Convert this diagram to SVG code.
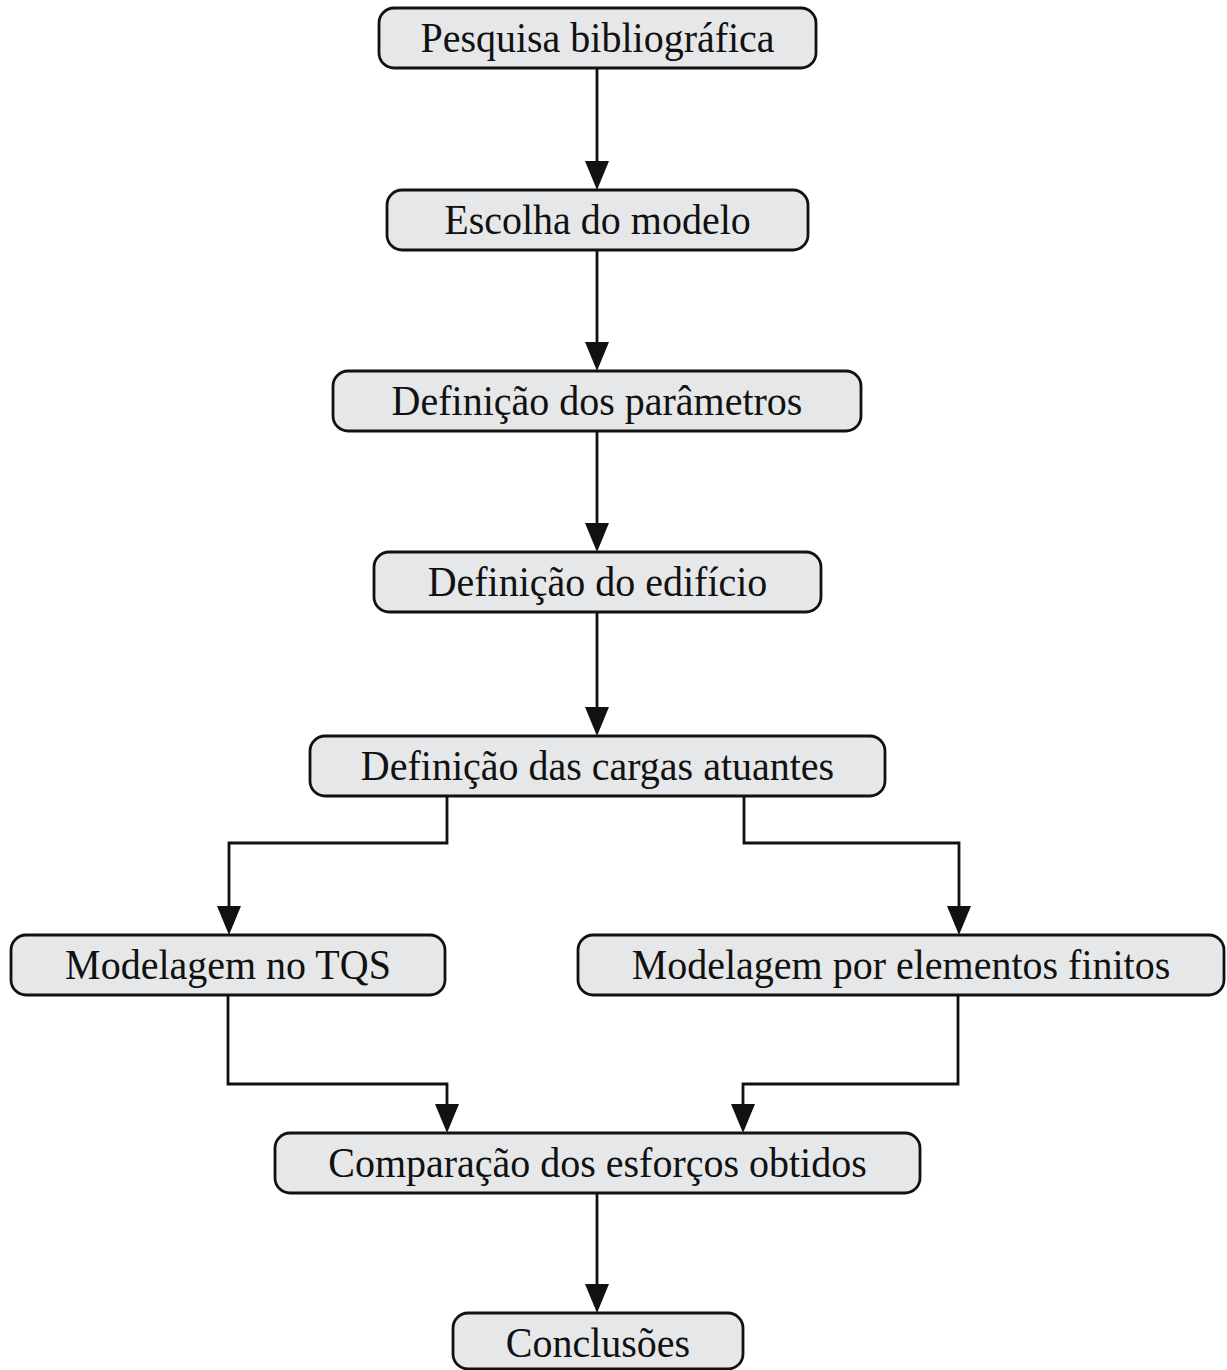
<svg xmlns="http://www.w3.org/2000/svg" width="1227" height="1370" viewBox="0 0 1227 1370">
  <style>
    .box { fill: #e6e7e9; stroke: #111; stroke-width: 2.8; }
    .lbl { font-family: "Liberation Serif", "Times New Roman", serif; font-size: 43px; fill: #111; text-anchor: middle; }
    .wire { fill: none; stroke: #111; stroke-width: 2.8; stroke-linejoin: miter; }
    .head { fill: #111; }
  </style>
  <rect width="1227" height="1370" fill="#fff"/>

  <!-- connectors: orthogonal lines, each ending in a filled arrowhead -->
  <g id="connectors">
    <path class="wire" d="M597,68 V161"/>
    <path class="head" d="M585,161 H609 L597,190 Z"/>
    <path class="wire" d="M597,250 V342"/>
    <path class="head" d="M585,342 H609 L597,371 Z"/>
    <path class="wire" d="M597,431 V523"/>
    <path class="head" d="M585,523 H609 L597,552 Z"/>
    <path class="wire" d="M597,612 V707"/>
    <path class="head" d="M585,707 H609 L597,736 Z"/>
    <path class="wire" d="M447,796 V843 H229 V906"/>
    <path class="head" d="M217,906 H241 L229,935 Z"/>
    <path class="wire" d="M744,796 V843 H959 V906"/>
    <path class="head" d="M947,906 H971 L959,935 Z"/>
    <path class="wire" d="M228,995 V1084 H447 V1104"/>
    <path class="head" d="M435,1104 H459 L447,1133 Z"/>
    <path class="wire" d="M958,995 V1084 H743 V1104"/>
    <path class="head" d="M731,1104 H755 L743,1133 Z"/>
    <path class="wire" d="M597,1193 V1284"/>
    <path class="head" d="M585,1284 H609 L597,1313 Z"/>
  </g>

  <!-- nodes: rounded boxes; labels set in a slightly condensed serif -->
  <g id="n-pesquisa">
    <rect class="box" x="379" y="8" width="437" height="60" rx="15"/>
    <text class="lbl" transform="translate(597.5,52) scale(0.93,1)">Pesquisa bibliográfica</text>
  </g>
  <g id="n-escolha">
    <rect class="box" x="387" y="190" width="421" height="60" rx="15"/>
    <text class="lbl" transform="translate(597.5,234) scale(0.93,1)">Escolha do modelo</text>
  </g>
  <g id="n-parametros">
    <rect class="box" x="333" y="371" width="528" height="60" rx="15"/>
    <text class="lbl" transform="translate(597,415) scale(0.93,1)">Definição dos parâmetros</text>
  </g>
  <g id="n-edificio">
    <rect class="box" x="374" y="552" width="447" height="60" rx="15"/>
    <text class="lbl" transform="translate(597.5,596) scale(0.93,1)">Definição do edifício</text>
  </g>
  <g id="n-cargas">
    <rect class="box" x="310" y="736" width="575" height="60" rx="15"/>
    <text class="lbl" transform="translate(597.5,780) scale(0.93,1)">Definição das cargas atuantes</text>
  </g>
  <g id="n-tqs">
    <rect class="box" x="11" y="935" width="434" height="60" rx="15"/>
    <text class="lbl" transform="translate(228,979) scale(0.93,1)">Modelagem no TQS</text>
  </g>
  <g id="n-mef">
    <rect class="box" x="578" y="935" width="646" height="60" rx="15"/>
    <text class="lbl" transform="translate(901,979) scale(0.93,1)">Modelagem por elementos finitos</text>
  </g>
  <g id="n-comparacao">
    <rect class="box" x="275" y="1133" width="645" height="60" rx="15"/>
    <text class="lbl" transform="translate(597.5,1177) scale(0.93,1)">Comparação dos esforços obtidos</text>
  </g>
  <g id="n-conclusoes">
    <rect class="box" x="453" y="1313" width="290" height="56" rx="15"/>
    <text class="lbl" transform="translate(598,1357) scale(0.93,1)">Conclusões</text>
  </g>
</svg>
